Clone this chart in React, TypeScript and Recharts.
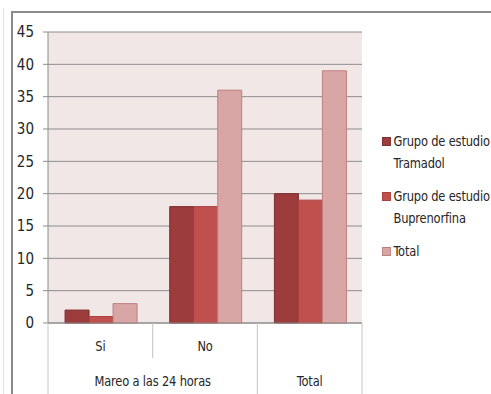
import React from 'react';
import { BarChart, Bar, XAxis, YAxis, CartesianGrid, Legend } from 'recharts';

const categories = ['Si', 'No', 'Total'];
const level1Labels = ['Si', 'No', ''];
const level2Labels = ['Mareo a las 24 horas', 'Mareo a las 24 horas', 'Total'];
const tramadol = [2, 18, 20];
const buprenorfina = [1, 18, 19];
const total = [3, 36, 39];
const yTicks = [0, 5, 10, 15, 20, 25, 30, 35, 40, 45];

const seriesNames = ['Grupo de estudio|Tramadol', 'Grupo de estudio|Buprenorfina', 'Total'];
const seriesFill = ['#9C3C3C', '#C0504D', '#D9A6A6'];
const seriesStroke = ['#7E2F2F', '#A8403E', '#BE7F7F'];

const data = categories.map((c, i) => ({
  cat: c,
  l1: level1Labels[i],
  l2: level2Labels[i],
  tramadol: tramadol[i],
  buprenorfina: buprenorfina[i],
  total: total[i],
}));

const W = 491;
const H = 394;
const PLOT_LEFT = 48;
const PLOT_RIGHT = 362;
const PLOT_TOP = 32;
const PLOT_BOTTOM = 323;
const BAND = (PLOT_RIGHT - PLOT_LEFT) / categories.length;
const FONT = '"DejaVu Sans Condensed", "Liberation Sans Narrow", sans-serif';
const TEXT = '#262626';
const DIV = '#c4c4c4';
const SX = 0.88;

const Label = ({ x, y, children }: any) => (
  <text
    transform={`translate(${x},${y}) scale(${SX},1)`}
    x={0}
    y={0}
    textAnchor="middle"
    dominantBaseline="central"
    fontSize={14.5}
    letterSpacing={-0.2}
    fill={TEXT}
    fontFamily={FONT}
  >
    {children}
  </text>
);

const XTick = (props: any) => {
  const { payload } = props;
  const i: number = payload.index;
  const cx: number = payload.coordinate;
  const left = cx - BAND / 2;
  const right = cx + BAND / 2;
  const newGroup = i === 0 || level2Labels[i - 1] !== level2Labels[i];
  let span = 1;
  while (i + span < level2Labels.length && level2Labels[i + span] === level2Labels[i]) span++;
  const isLast = i === categories.length - 1;
  return (
    <g>
      <line x1={left} x2={left} y1={PLOT_BOTTOM} y2={newGroup ? H : 358} stroke={DIV} strokeWidth={1} />
      {isLast && <line x1={right} x2={right} y1={PLOT_BOTTOM} y2={H} stroke={DIV} strokeWidth={1} />}
      {level1Labels[i] && <Label x={cx} y={346}>{level1Labels[i]}</Label>}
      {newGroup && <Label x={left + (span * BAND) / 2} y={381}>{level2Labels[i]}</Label>}
    </g>
  );
};

const LegendContent = () => (
  <div
    style={{
      fontFamily: FONT,
      fontSize: 14.5,
      letterSpacing: -0.2,
      color: TEXT,
      whiteSpace: 'nowrap',
      transform: `scale(${SX},1)`,
      transformOrigin: '0 0',
    }}
  >
    {seriesNames.map((n, k) => (
      <div key={k} style={{ display: 'flex', alignItems: 'flex-start', marginBottom: 11 }}>
        <div
          style={{
            flex: 'none',
            width: 8,
            height: 7,
            marginTop: 7,
            marginRight: 3,
            background: seriesFill[k],
            border: `1px solid ${seriesStroke[k]}`,
          }}
        />
        <div style={{ lineHeight: '22px' }}>
          {n.split('|').map((s, j) => (
            <div key={j}>{s}</div>
          ))}
        </div>
      </div>
    ))}
  </div>
);

export default function App() {
  return (
    <div style={{ position: 'absolute', left: 0, top: 0, width: W, height: H, background: '#fff', overflow: 'hidden' }}>
      <div style={{ position: 'absolute', left: 3, top: 8, width: 1, height: H, background: '#e2e2e2' }} />
      <div style={{ position: 'absolute', left: 11, top: 11, width: W, height: 2, background: '#8a8a8a' }} />
      <div style={{ position: 'absolute', left: 11, top: 11, width: 2, height: H, background: '#8a8a8a' }} />
      <div style={{ position: 'absolute', left: 0, top: 0 }}>
        <BarChart
          width={W}
          height={H}
          data={data}
          margin={{ top: PLOT_TOP, right: W - PLOT_RIGHT, bottom: 0, left: 0 }}
          barCategoryGap="16.3%"
          barGap={0}
        >
          <CartesianGrid vertical={false} stroke="#8c8c8c" fill="#F2E7E7" fillOpacity={1} />
          <XAxis
            dataKey="cat"
            height={H - PLOT_BOTTOM}
            interval={0}
            tickLine={false}
            axisLine={{ stroke: '#8c8c8c' }}
            tick={<XTick />}
          />
          <YAxis
            width={PLOT_LEFT}
            domain={[0, 45]}
            ticks={yTicks}
            interval={0}
            tickSize={5}
            tickMargin={9}
            axisLine={{ stroke: '#8c8c8c' }}
            tickLine={{ stroke: '#8c8c8c' }}
            tick={{ fontSize: 15, fill: TEXT, fontFamily: FONT }}
          />
          <Legend
            layout="horizontal"
            verticalAlign="middle"
            align="center"
            content={<LegendContent />}
            wrapperStyle={{ position: 'absolute', left: 382, top: 130, width: 109, height: 150 }}
          />
          <Bar dataKey="tramadol" name="Grupo de estudio Tramadol" fill={seriesFill[0]} stroke={seriesStroke[0]} isAnimationActive={false} />
          <Bar dataKey="buprenorfina" name="Grupo de estudio Buprenorfina" fill={seriesFill[1]} stroke={seriesStroke[1]} isAnimationActive={false} />
          <Bar dataKey="total" name="Total" fill={seriesFill[2]} stroke={seriesStroke[2]} isAnimationActive={false} />
        </BarChart>
      </div>
    </div>
  );
}
